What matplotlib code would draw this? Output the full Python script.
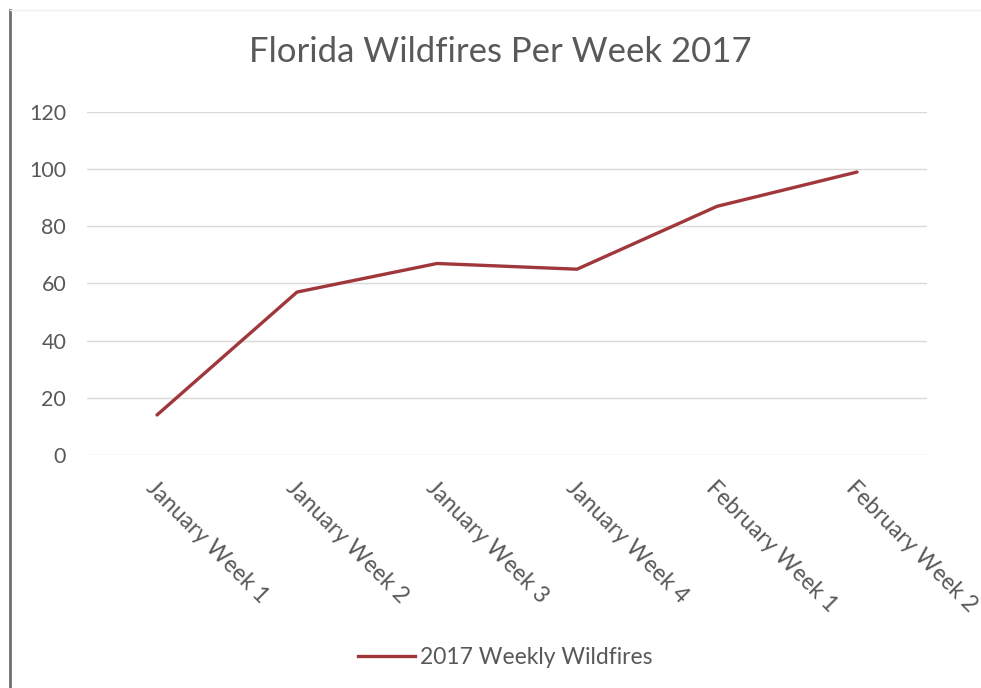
import matplotlib.pyplot as plt
from matplotlib.lines import Line2D

weeks = ['January Week 1', 'January Week 2', 'January Week 3', 'January Week 4',
         'February Week 1', 'February Week 2']
fires = [14, 57, 67, 65, 87, 99]
yticks = [0, 20, 40, 60, 80, 100, 120]

plt.rcParams['font.family'] = ['Lato', 'DejaVu Sans']
txt = '#595959'
red = '#A0373B'

fig = plt.figure(figsize=(9.81, 6.88), dpi=100)
ax = fig.add_axes([0.0887, 0.3387, 0.8563, 0.4985])

x = list(range(len(weeks)))
ax.plot(x, fires, color=red, lw=2.4, solid_capstyle='round', label='2017 Weekly Wildfires')

ax.set_xlim(-0.5, len(weeks) - 0.5)
ax.set_ylim(0, 120)
ax.set_yticks(yticks)
ax.set_xticks(x)
ax.set_xticklabels(weeks, rotation=-45, ha='left', va='top', rotation_mode='anchor')
ax.grid(axis='y', color='#D9D9D9', lw=1)
ax.set_axisbelow(True)
for s in ax.spines.values():
    s.set_visible(False)
ax.tick_params(axis='both', length=0, colors=txt)
ax.tick_params(axis='y', pad=15, labelsize=15.5)
ax.tick_params(axis='x', pad=16, labelsize=16.5)

fig.text(0.51, 0.924, 'Florida Wildfires Per Week 2017', ha='center', va='center',
         fontsize=25, color=txt)

fig.legend(handles=[Line2D([0], [0], color=red, lw=2.4)], labels=['2017 Weekly Wildfires'],
           loc='center', bbox_to_anchor=(0.515, 0.045), frameon=False,
           fontsize=16.5, labelcolor=txt, handlelength=2.5, handletextpad=0.2)

# frame edge on the left and top
fig.add_artist(Line2D([0.0102, 0.0102], [0, 0.986], color='#6E6E6E', lw=2, transform=fig.transFigure))
fig.add_artist(Line2D([0.0102, 1], [0.986, 0.986], color='#EEEEEE', lw=1, transform=fig.transFigure))

fig.savefig('out.png', dpi=100)
